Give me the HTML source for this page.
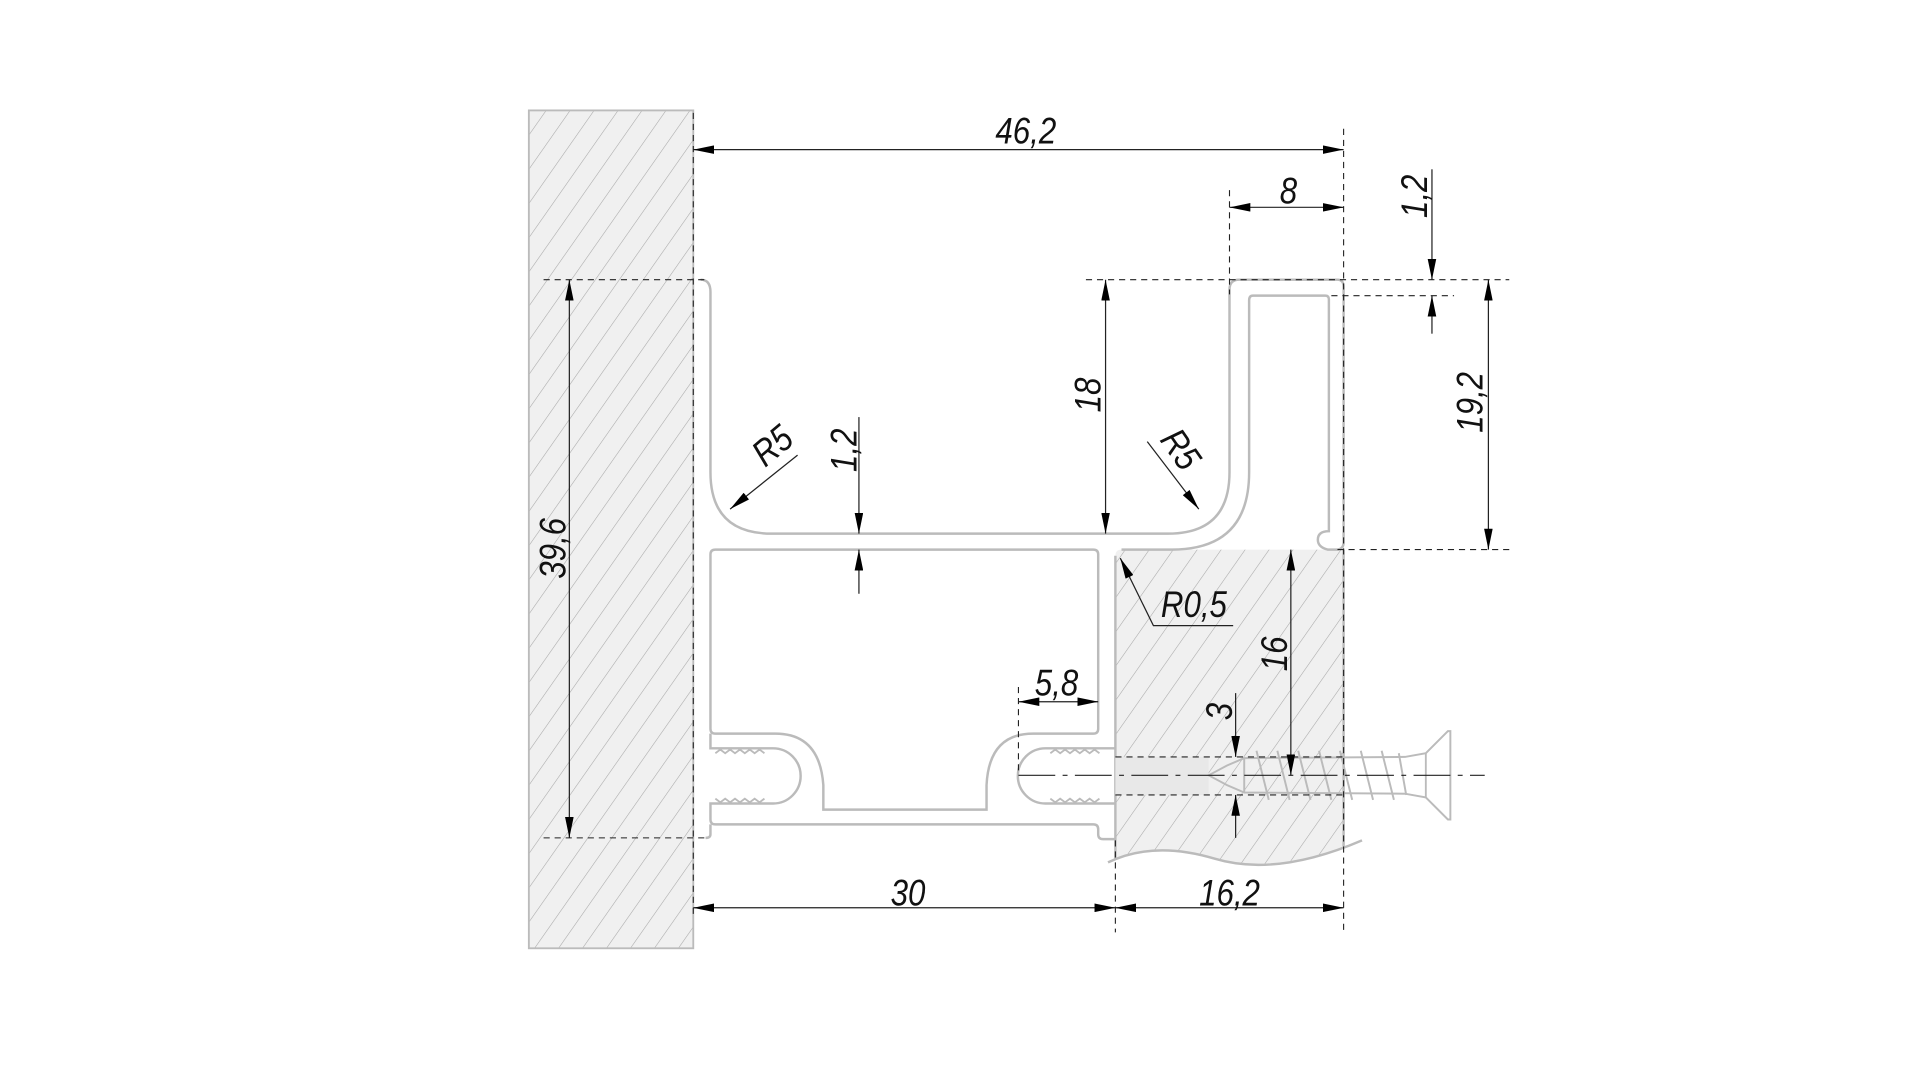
<!DOCTYPE html>
<html><head><meta charset="utf-8"><style>
html,body{margin:0;padding:0;background:#fff;}
svg{display:block;}
text{font-family:"Liberation Sans",sans-serif;font-style:italic;font-size:30px;fill:#111;}
</style></head><body>
<svg width="1924" height="1082" viewBox="0 0 1568 882" preserveAspectRatio="none" xmlns="http://www.w3.org/2000/svg">
<defs>
<pattern id="h" patternUnits="userSpaceOnUse" width="16" height="16" patternTransform="rotate(35)">
<rect width="16" height="16" fill="#f0f0f0"/>
<line x1="0" y1="0" x2="0" y2="16" stroke="#a8a8a8" stroke-width="0.9"/>
</pattern>
<marker id="a" viewBox="0 0 17 7" refX="17" refY="3.5" markerWidth="17" markerHeight="7" markerUnits="userSpaceOnUse" orient="auto">
<path d="M0,0 L17,3.5 L0,7 z" fill="#000"/></marker>
<marker id="b" viewBox="0 0 17 7" refX="0" refY="3.5" markerWidth="17" markerHeight="7" markerUnits="userSpaceOnUse" orient="auto">
<path d="M17,0 L0,3.5 L17,7 z" fill="#000"/></marker>
</defs>

<rect x="431" y="90" width="134" height="683" fill="url(#h)" stroke="#bbb" stroke-width="1.5"/>
<path d="M909,453 Q909,448 914,448 L1095,448 L1095,690 Q1040,715 990,700 Q940,685 903,703 L909,700 Z" fill="url(#h)" stroke="none"/>
<line x1="909" y1="453" x2="909" y2="700" stroke="#bbb" stroke-width="2"/>
<line x1="1095" y1="448" x2="1095" y2="690" stroke="#bbb" stroke-width="2"/>
<path d="M903,703 Q940,685 990,700 Q1040,715 1110,685" fill="none" stroke="#bbb" stroke-width="2"/>
<rect x="909" y="617" width="76" height="31" fill="#e8e8e8"/>

<g fill="none" stroke="#bbb" stroke-width="2">
<path d="M571,228 Q579,228 579,238 L579,385 Q579,435 629,435 L952,435 Q1002,435 1002,385 L1002,236 Q1002,228 1010,228 L1090,228 Q1095,228 1095,234 L1095,442 Q1095,448 1089,448 L1082,448 Q1074,446 1074,440 Q1074,433 1083,433 L1083,244 Q1083,241 1080,241 L1021,241 Q1018,241 1018,245 L1018,385 Q1018,448 955,448 L914,448"/>
<path d="M583,448 L891,448 Q895,448 895,452 L895,594 Q895,598 891,598 L842,598 Q806,598 804,640 L804,660 L671,660 L671,640 Q668,598 632,598 L583,598 Q579,598 579,594 L579,452 Q579,448 583,448"/>
<path d="M579,598 L579,610 L630,610 A22,22 0 0 1 630,655 L579,655 L579,668 Q579,672 583,672 L891,672 Q895,672 895,676 L895,680 Q895,684 899,684 L909,684"/>
<path d="M579,672 L579,680 Q579,683 575,683"/>
<path d="M909,610 L852,610 A22,22 0 0 0 852,655 L909,655"/>
<path d="M985,632 L1000,624 L1014,618 L1145,617 L1162,614 L1178,598 L1180,596 L1182,596 L1182,668 L1180,668 L1162,650 L1145,647 L1014,646 L1000,640 Z" stroke-width="1.6"/>
<path d="M1014,618 L1014,646 M1024,612 L1034,652 M1041,612 L1051,652 M1058,612 L1068,652 M1075,612 L1085,652 M1092,612 L1102,652 M1109,612 L1119,652 M1126,612 L1136,652 M1140,614 L1146,648" stroke-width="1.6"/>
<line x1="1162" y1="614" x2="1162" y2="650" stroke-width="1.5"/>
</g>
<g stroke="#bbb" stroke-width="1.5" fill="none">
<path d="M583,614 l4,-3 l4,3 l4,-3 l4,3 l4,-3 l4,3 l4,-3 l4,3 l4,-3 l4,3"/>
<path d="M583,651 l4,3 l4,-3 l4,3 l4,-3 l4,3 l4,-3 l4,3 l4,-3 l4,3 l4,-3"/>
<path d="M856,614 l4,-3 l4,3 l4,-3 l4,3 l4,-3 l4,3 l4,-3 l4,3 l4,-3 l4,3"/>
<path d="M856,651 l4,3 l4,-3 l4,3 l4,-3 l4,3 l4,-3 l4,3 l4,-3 l4,3 l4,-3"/>
</g>

<g stroke="#222" stroke-width="0.9" stroke-dasharray="5,4" fill="none">
<line x1="565" y1="92" x2="565" y2="745"/>
<line x1="1095" y1="105" x2="1095" y2="760"/>
<line x1="1002" y1="155" x2="1002" y2="240"/>
<line x1="443" y1="228" x2="575" y2="228"/>
<line x1="885" y1="228" x2="1230" y2="228"/>
<line x1="1085" y1="241" x2="1185" y2="241"/>
<line x1="1090" y1="448" x2="1230" y2="448"/>
<line x1="443" y1="683" x2="577" y2="683"/>
<line x1="909" y1="685" x2="909" y2="760"/>
<line x1="830" y1="560" x2="830" y2="632"/>
<line x1="909" y1="617" x2="1095" y2="617"/>
<line x1="909" y1="648" x2="1095" y2="648"/>
<line x1="830" y1="632" x2="1210" y2="632" stroke-dasharray="30,6,4,6"/>
</g>

<g stroke="#222" stroke-width="1" fill="none">
<line x1="565" y1="122" x2="1095" y2="122" marker-start="url(#b)" marker-end="url(#a)"/>
<line x1="1002" y1="169" x2="1095" y2="169" marker-start="url(#b)" marker-end="url(#a)"/>
<line x1="1167" y1="138" x2="1167" y2="228" marker-end="url(#a)"/>
<line x1="1167" y1="272" x2="1167" y2="241" marker-end="url(#a)"/>
<line x1="1213" y1="228" x2="1213" y2="448" marker-start="url(#b)" marker-end="url(#a)"/>
<line x1="901" y1="228" x2="901" y2="435" marker-start="url(#b)" marker-end="url(#a)"/>
<line x1="464" y1="228" x2="464" y2="683" marker-start="url(#b)" marker-end="url(#a)"/>
<line x1="700" y1="340" x2="700" y2="435" marker-end="url(#a)"/>
<line x1="700" y1="484" x2="700" y2="448" marker-end="url(#a)"/>
<line x1="565" y1="740" x2="909" y2="740" marker-start="url(#b)" marker-end="url(#a)"/>
<line x1="909" y1="740" x2="1095" y2="740" marker-start="url(#b)" marker-end="url(#a)"/>
<line x1="830" y1="572" x2="895" y2="572" marker-start="url(#b)" marker-end="url(#a)"/>
<line x1="1052" y1="448" x2="1052" y2="632" marker-start="url(#b)" marker-end="url(#a)"/>
<line x1="1007" y1="565" x2="1007" y2="617" marker-end="url(#a)"/>
<line x1="1007" y1="683" x2="1007" y2="648" marker-end="url(#a)"/>
<line x1="650" y1="371" x2="595" y2="415" marker-end="url(#a)"/>
<line x1="935" y1="360" x2="977" y2="415" marker-end="url(#a)"/>
<polyline points="1005,510 940,510 913,455" marker-end="url(#a)"/>
</g>

<text transform="translate(836,117) scale(0.85,1)" text-anchor="middle">46,2</text>
<text transform="translate(1050,166) scale(0.85,1)" text-anchor="middle">8</text>
<text transform="translate(740,738) scale(0.85,1)" text-anchor="middle">30</text>
<text transform="translate(1002,738) scale(0.85,1)" text-anchor="middle">16,2</text>
<text transform="translate(861,567) scale(0.85,1)" text-anchor="middle">5,8</text>
<text transform="translate(973,503) scale(0.85,1)" text-anchor="middle">R0,5</text>
<text transform="translate(1163,160) rotate(-90) scale(0.85,1)" text-anchor="middle">1,2</text>
<text transform="translate(1208,328) rotate(-90) scale(0.85,1)" text-anchor="middle">19,2</text>
<text transform="translate(897,322) rotate(-90) scale(0.85,1)" text-anchor="middle">18</text>
<text transform="translate(461,447) rotate(-90) scale(0.85,1)" text-anchor="middle">39,6</text>
<text transform="translate(698,367) rotate(-90) scale(0.85,1)" text-anchor="middle">1,2</text>
<text transform="translate(1049,533) rotate(-90) scale(0.85,1)" text-anchor="middle">16</text>
<text transform="translate(1004,580) rotate(-90) scale(0.85,1)" text-anchor="middle">3</text>
<text transform="translate(636,371) rotate(-40) scale(0.85,1)" text-anchor="middle">R5</text>
<text transform="translate(954,372) rotate(55) scale(0.85,1)" text-anchor="middle">R5</text>
</svg>
</body></html>
